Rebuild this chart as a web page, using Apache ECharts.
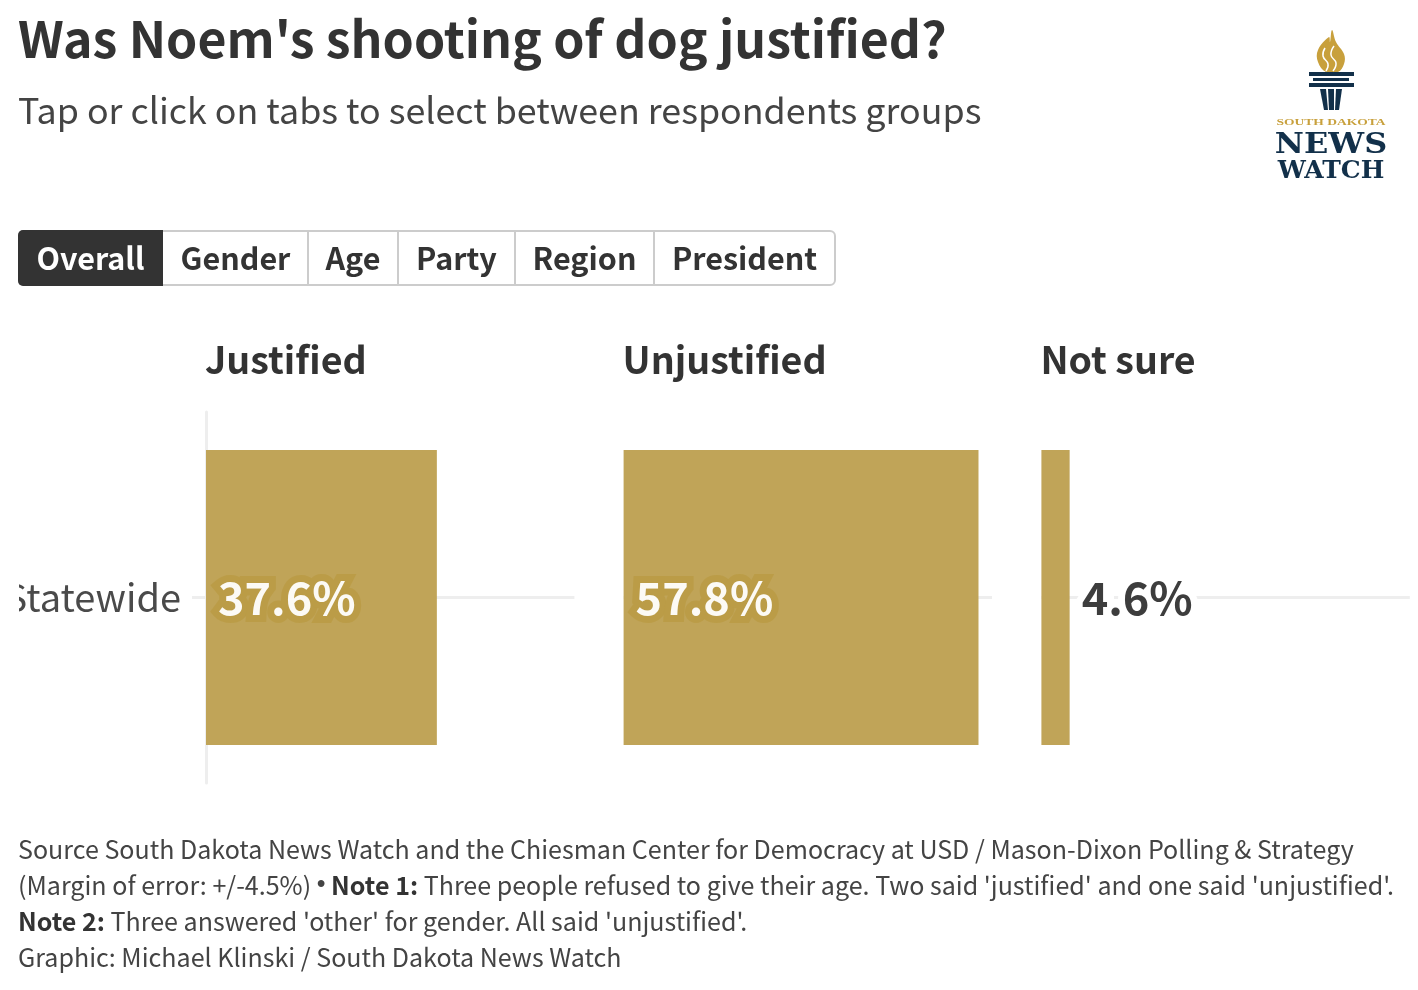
<!DOCTYPE html>
<html>
<head>
<meta charset="utf-8">
<style>
  html, body { margin: 0; padding: 0; background: #fff; }
  #chart { width: 1418px; height: 990px; }
</style>
<script src="https://cdn.jsdelivr.net/npm/echarts@6/dist/echarts.min.js"></script>
</head>
<body>
<div id="chart"></div>
<script>
const FONT = '"Noto Sans CJK SC", "Noto Sans", sans-serif';

const categories = ['Statewide'];
const panelNames = ['Justified', 'Unjustified', 'Not sure'];
const justified = [37.6];
const unjustified = [57.8];
const notSure = [4.6];
const panelValues = [justified, unjustified, notSure];
const tabNames = ['Overall', 'Gender', 'Age', 'Party', 'Region', 'President'];
const tabEdges = [18, 163, 308, 398, 515, 654, 835];
const panelLefts = [206, 623.6, 1041.4];

const chart = echarts.init(document.getElementById('chart'));

// tab bar
const tabs = [];
tabs.push({
  type: 'rect', shape: { x: 19, y: 231, width: 816, height: 54, r: 5 },
  style: { fill: '#fff', stroke: '#ccc', lineWidth: 2 }
});
tabs.push({
  type: 'rect', shape: { x: 18, y: 230, width: 145, height: 56, r: [5, 0, 0, 5] },
  style: { fill: '#333' }
});
tabNames.forEach((name, i) => {
  if (i > 1) {
    tabs.push({ type: 'rect', shape: { x: tabEdges[i] - 1, y: 231, width: 2, height: 54 }, style: { fill: '#ccc' } });
  }
  tabs.push({
    type: 'text',
    style: {
      x: (tabEdges[i] + tabEdges[i + 1]) / 2, y: 258, text: name,
      align: 'center', verticalAlign: 'middle',
      font: '700 30.5px ' + FONT, fill: i === 0 ? '#fff' : '#333'
    }
  });
});

// footer, four lines
const footerRich = {
  n: { font: '400 25.05px ' + FONT, fill: '#444' },
  b: { font: '700 25.05px ' + FONT, fill: '#333' },
  d: { font: '400 25px "Liberation Sans", sans-serif', fill: '#444' }
};
const footerLines = [
  '{n|Source South Dakota News Watch and the Chiesman Center for Democracy at USD / Mason-Dixon Polling & Strategy}',
  "{n|(Margin of error: +/-4.5%) }{d|•}{n| }{b|Note 1:}{n| Three people refused to give their age. Two said 'justified' and one said 'unjustified'.}",
  "{b|Note 2:}{n| Three answered 'other' for gender. All said 'unjustified'.}",
  '{n|Graphic: Michael Klinski / South Dakota News Watch}'
];
const footer = footerLines.map((line, i) => ({
  type: 'text',
  style: { x: 18, y: 849 + i * 36, text: line, verticalAlign: 'middle', rich: footerRich, font: '400 25px ' + FONT, fill: '#444' }
}));

// logo
const NAVY = '#12304a', LOGO_GOLD = '#c8a03c';
const logoText = (text, y, size, family, fill, scaleX) => ({
  type: 'text', x: 1331, y: y, scaleX: scaleX,
  style: { x: 0, y: 0, text: text, align: 'center', verticalAlign: 'middle', font: '700 ' + size + 'px ' + family, fill: fill }
});
const logo = [
  { type: 'polygon', shape: { smooth: 0.4, points: [[1332, 30], [1336, 42], [1344, 54], [1344, 64], [1338, 72], [1326, 72], [1318, 62], [1318, 50], [1329, 37], [1330, 42]] }, style: { fill: LOGO_GOLD } },
  { type: 'polyline', shape: { smooth: 0.5, points: [[1325, 48], [1323, 56], [1328, 64], [1326, 71]] }, style: { stroke: '#fff', lineWidth: 1.5, fill: null } },
  { type: 'polyline', shape: { smooth: 0.5, points: [[1334, 46], [1331, 55], [1336, 63], [1333, 71]] }, style: { stroke: '#fff', lineWidth: 1.5, fill: null } },
  { type: 'rect', shape: { x: 1309, y: 72, width: 45, height: 4 }, style: { fill: NAVY } },
  { type: 'rect', shape: { x: 1313, y: 78, width: 36, height: 3 }, style: { fill: NAVY } },
  { type: 'rect', shape: { x: 1309, y: 83, width: 45, height: 4 }, style: { fill: NAVY } },
  { type: 'polygon', shape: { points: [[1320, 89], [1326, 89], [1328, 110], [1324, 110]] }, style: { fill: NAVY } },
  { type: 'polygon', shape: { points: [[1328, 89], [1334, 89], [1334, 110], [1329, 110]] }, style: { fill: NAVY } },
  { type: 'polygon', shape: { points: [[1336, 89], [1342, 89], [1339, 110], [1335, 110]] }, style: { fill: NAVY } },
  logoText('SOUTH DAKOTA', 123, 9, '"Liberation Serif", serif', LOGO_GOLD, 1.5),
  logoText('NEWS', 146, 28, '"DejaVu Serif", serif', NAVY, 1.14),
  logoText('WATCH', 171, 25, '"DejaVu Serif", serif', NAVY, 1.0)
];

const grids = panelLefts.map(left => ({ left: left, top: 412, width: 368.4, height: 371 }));

const xAxes = panelLefts.map((_, i) => ({
  gridIndex: i, type: 'value', min: 0, max: 60,
  axisLine: { show: false }, axisTick: { show: false }, axisLabel: { show: false }, splitLine: { show: false }
}));

const yAxes = panelLefts.map((_, i) => ({
  gridIndex: i, type: 'category', data: categories, inverse: true,
  axisLine: { show: i === 0, onZero: false, lineStyle: { color: '#eee', width: 3 } },
  axisTick: { show: i === 0, alignWithLabel: true, length: 14, lineStyle: { color: '#eee', width: 3 } },
  splitLine: { show: false },
  axisLabel: {
    show: i === 0, margin: 25, fontFamily: FONT, fontSize: 38, color: '#4a4a4a'
  }
}));

const series = panelValues.map((values, i) => {
  const inside = values[0] > 10;
  return {
    type: 'bar', xAxisIndex: i, yAxisIndex: i, data: values,
    barWidth: 295,
    itemStyle: { color: '#bd9f4f', opacity: 0.95 },
    markLine: {
      silent: true, symbol: 'none', z: 1, animation: false, label: { show: false },
      lineStyle: { color: '#eee', width: 3, type: 'solid' },
      emphasis: { disabled: true },
      data: [[{ xAxis: 0, yAxis: categories[0] }, { xAxis: 60, yAxis: categories[0] }]]
    },
    label: {
      show: true,
      position: inside ? 'insideLeft' : 'right',
      distance: inside ? 12 : 12,
      formatter: p => p.value.toFixed(1) + '%',
      fontFamily: FONT, fontWeight: 700, fontSize: 45,
      color: inside ? '#fff' : '#333',
      textBorderColor: inside ? '#bb9c47' : '#fff',
      textBorderWidth: 14
    },
    animation: false
  };
});

chart.setOption({
  animation: false,
  backgroundColor: '#fff',
  title: [
    { text: 'Was Noem\'s shooting of dog justified?', left: 13, top: 9, textStyle: { fontFamily: FONT, fontWeight: 700, fontSize: 50, color: '#333' } },
    { text: 'Tap or click on tabs to select between respondents groups', left: 13, top: 87, textStyle: { fontFamily: FONT, fontWeight: 400, fontSize: 35.8, color: '#444' } }
  ].concat(panelNames.map((name, i) => ({
    text: name, left: panelLefts[i] - 6, top: 336,
    textStyle: { fontFamily: FONT, fontWeight: 700, fontSize: 37.6, color: '#333' }
  }))),
  grid: grids,
  xAxis: xAxes,
  yAxis: yAxes,
  series: series,
  graphic: { elements: tabs.concat(footer, logo, [
    // the category label is cut off at the left edge of the chart body
    { type: 'rect', z: 100, shape: { x: 0, y: 570, width: 19, height: 60 }, style: { fill: '#fff' } }
  ]) }
});
</script>
</body>
</html>
